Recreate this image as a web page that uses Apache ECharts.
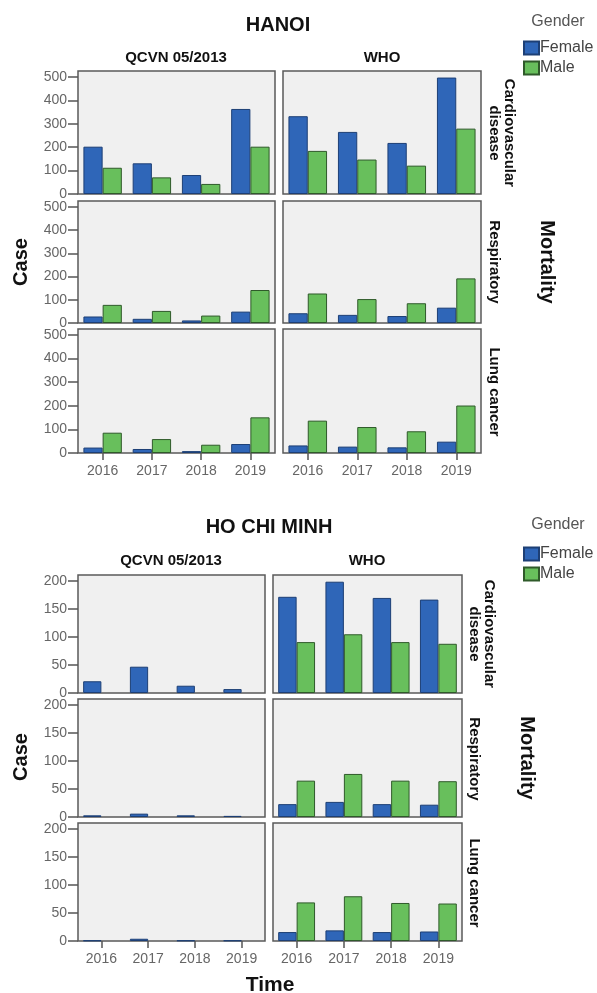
<!DOCTYPE html>
<html>
<head>
<meta charset="utf-8">
<script src="https://cdn.jsdelivr.net/npm/echarts@6/dist/echarts.min.js"></script>
<style>html,body{margin:0;padding:0;background:#fff;}#c{width:597px;height:993px;}</style>
</head>
<body>
<div id="c"></div>
<script>
const years = ['2016', '2017', '2018', '2019'];
const genders = ['Female', 'Male'];
const standards = ['QCVN 05/2013', 'WHO'];
const causes = ['Cardiovascular\ndisease', 'Respiratory', 'Lung cancer'];

// HANOI
const hanoiQcvnCvdFemale = [202, 131, 81, 363];
const hanoiQcvnCvdMale = [112, 71, 43, 202];
const hanoiWhoCvdFemale = [332, 265, 218, 497];
const hanoiWhoCvdMale = [184, 147, 121, 279];
const hanoiQcvnRespFemale = [28, 18, 11, 49];
const hanoiQcvnRespMale = [78, 52, 32, 142];
const hanoiWhoRespFemale = [42, 35, 30, 66];
const hanoiWhoRespMale = [127, 103, 85, 192];
const hanoiQcvnLungFemale = [23, 17, 8, 38];
const hanoiQcvnLungMale = [86, 59, 35, 151];
const hanoiWhoLungFemale = [32, 27, 24, 48];
const hanoiWhoLungMale = [137, 110, 92, 201];
const hanoiTicks = [0, 100, 200, 300, 400, 500];

// HO CHI MINH
const hcmQcvnCvdFemale = [21, 47, 13, 7];
const hcmQcvnCvdMale = [0, 0, 0, 0];
const hcmWhoCvdFemale = [172, 199, 170, 167];
const hcmWhoCvdMale = [91, 105, 91, 88];
const hcmQcvnRespFemale = [3, 6, 3, 2];
const hcmQcvnRespMale = [0, 0, 0, 0];
const hcmWhoRespFemale = [23, 27, 23, 22];
const hcmWhoRespMale = [65, 77, 65, 64];
const hcmQcvnLungFemale = [1, 4, 1, 1];
const hcmQcvnLungMale = [0, 0, 0, 0];
const hcmWhoLungFemale = [16, 19, 16, 17];
const hcmWhoLungMale = [69, 80, 68, 67];
const hcmTicks = [0, 50, 100, 150, 200];

const blocks = [
  {
    max: 525, ticks: hanoiTicks,
    cols: [{left: 78, width: 197}, {left: 283, width: 198}],
    rows: [{top: 71, height: 123}, {top: 201, height: 122}, {top: 329, height: 124}],
    data: [
      [[hanoiQcvnCvdFemale, hanoiQcvnCvdMale], [hanoiWhoCvdFemale, hanoiWhoCvdMale]],
      [[hanoiQcvnRespFemale, hanoiQcvnRespMale], [hanoiWhoRespFemale, hanoiWhoRespMale]],
      [[hanoiQcvnLungFemale, hanoiQcvnLungMale], [hanoiWhoLungFemale, hanoiWhoLungMale]]
    ]
  },
  {
    max: 211, ticks: hcmTicks,
    cols: [{left: 78, width: 187}, {left: 273, width: 189}],
    rows: [{top: 575, height: 118}, {top: 699, height: 118}, {top: 823, height: 118}],
    data: [
      [[hcmQcvnCvdFemale, hcmQcvnCvdMale], [hcmWhoCvdFemale, hcmWhoCvdMale]],
      [[hcmQcvnRespFemale, hcmQcvnRespMale], [hcmWhoRespFemale, hcmWhoRespMale]],
      [[hcmQcvnLungFemale, hcmQcvnLungMale], [hcmWhoLungFemale, hcmWhoLungMale]]
    ]
  }
];

const colors = ['#2f66b8', '#68bf5c'];
const borders = ['#1d3f75', '#2f5a2a'];
const grid = [], xAxis = [], yAxis = [], series = [];
let gi = 0;
blocks.forEach(b => {
  b.rows.forEach((r, ri) => {
    b.cols.forEach((c, ci) => {
      grid.push({left: c.left, top: r.top, width: c.width, height: r.height,
        show: true, backgroundColor: '#f0f0f0', borderColor: '#5a5a5a', borderWidth: 1.5, containLabel: false});
      const bottom = ri === b.rows.length - 1;
      xAxis.push({type: 'category', gridIndex: gi, data: years,
        axisLine: {show: false},
        axisTick: {show: bottom, alignWithLabel: true, length: 7, lineStyle: {color: '#555', width: 1.5}},
        axisLabel: {show: bottom, color: '#666', fontSize: 14, fontFamily: 'Liberation Sans', margin: 11},
        splitLine: {show: false}});
      yAxis.push({type: 'value', gridIndex: gi, min: 0, max: b.max,
        axisLine: {show: false},
        axisTick: {show: ci === 0, inside: false, length: 10, customValues: b.ticks, lineStyle: {color: '#555', width: 1.5}},
        axisLabel: {show: ci === 0, customValues: b.ticks, color: '#666', fontSize: 14, fontFamily: 'Liberation Sans', margin: 11},
        splitLine: {show: false}});
      b.data[ri][ci].forEach((vals, gIdx) => {
        series.push({type: 'bar', name: genders[gIdx], xAxisIndex: gi, yAxisIndex: gi,
          data: vals.map(v => (v === 0 ? '-' : v)), barGap: '0%', barCategoryGap: '22%',
          itemStyle: {color: colors[gIdx], borderColor: borders[gIdx], borderWidth: 1},
          emphasis: {disabled: true}, animation: false});
      });
      gi++;
    });
  });
});

function txt(x, y, text, size, opts) {
  opts = opts || {};
  return {type: 'text', x: x, y: y, rotation: opts.rot || 0, silent: true,
    style: {text: text, fontSize: size, fontWeight: opts.weight || 'bold', fill: opts.color || '#111',
      fontFamily: 'Liberation Sans', align: 'center', verticalAlign: 'middle', lineHeight: opts.lh || size * 1.05}};
}
const R = -Math.PI / 2, L = Math.PI / 2;
const graphic = [
  txt(278, 25, 'HANOI', 20),
  txt(176, 58, standards[0], 15),
  txt(382, 58, standards[1], 15),
  txt(558, 22, 'Gender', 16, {weight: 'normal', color: '#555'}),
  txt(502, 133, causes[0], 15, {rot: R, lh: 15}),
  txt(494, 262, causes[1], 15, {rot: R}),
  txt(494, 392, causes[2], 15, {rot: R}),
  txt(547, 262, 'Mortality', 20, {rot: R}),
  txt(21, 262, 'Case', 20, {rot: L}),

  txt(269, 527, 'HO CHI MINH', 20),
  txt(171, 561, standards[0], 15),
  txt(367, 561, standards[1], 15),
  txt(558, 525, 'Gender', 16, {weight: 'normal', color: '#555'}),
  txt(482, 634, causes[0], 15, {rot: R, lh: 15}),
  txt(474, 759, causes[1], 15, {rot: R}),
  txt(474, 883, causes[2], 15, {rot: R}),
  txt(527, 758, 'Mortality', 20, {rot: R}),
  txt(21, 757, 'Case', 20, {rot: L}),
  txt(270, 985, 'Time', 21)
];

const legendBase = {orient: 'vertical', left: 523, padding: 0, itemWidth: 15, itemHeight: 13, itemGap: 4,
  icon: 'rect', data: genders, selectedMode: false,
  textStyle: {fontSize: 16, color: '#444', fontFamily: 'Liberation Sans', padding: [0, 0, 0, -4]}};

const option = {
  animation: false,
  backgroundColor: '#fff',
  grid: grid, xAxis: xAxis, yAxis: yAxis, series: series,
  legend: [Object.assign({top: 40}, legendBase), Object.assign({top: 546}, legendBase)],
  graphic: graphic
};
const chart = echarts.init(document.getElementById('c'), null, {renderer: 'canvas'});
chart.setOption(option);
</script>
</body>
</html>
